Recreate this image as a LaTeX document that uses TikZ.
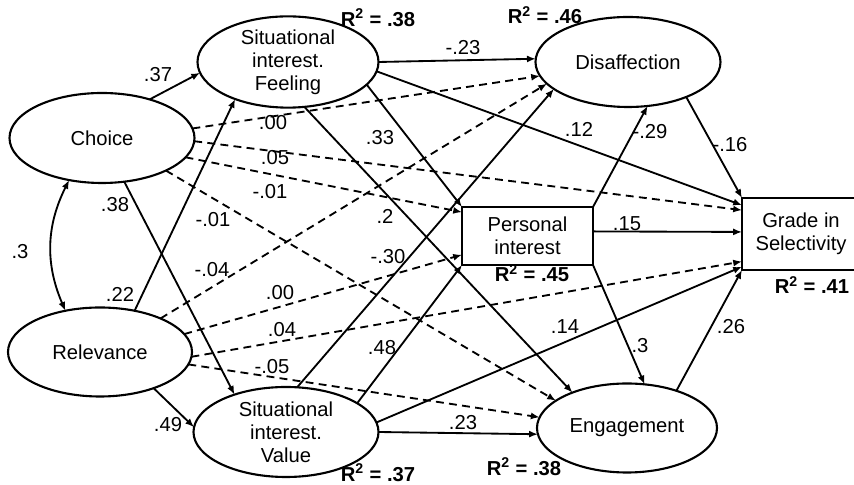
\documentclass[tikz,border=0pt]{standalone}
\usepackage{fontspec}
\setmainfont{Liberation Sans}
\usetikzlibrary{shapes.geometric, arrows.meta}

\begin{document}
\begin{tikzpicture}[
	latent/.style={draw, ellipse, line width=1.2pt, inner sep=0, outer sep=0, align=center, minimum width=3.7cm, minimum height=1.8cm},
	observed/.style={draw, rectangle, line width=1.2pt, inner sep=0, outer sep=0, align=center},
	effect/.style={-{Latex[length=5pt, width=4pt]}, line width=1.05pt},
	nseffect/.style={effect, dash pattern=on 4.5pt off 3pt},
	coef/.style={inner sep=0},
	rsq/.style={inner sep=0, font=\fontsize{11.5}{13}\selectfont\bfseries},
	every node/.style={font=\fontsize{11.5}{13}\selectfont}
	]
	\useasboundingbox (0,0) rectangle (17.08,9.7);
	
	% constructs
	\node (choice) at (2.04,6.94) [latent] {Choice};
	\node (relev) at (2.0,2.66) [latent, minimum width=3.68cm, minimum height=1.78cm] {Relevance};
	\node (feel) at (5.76,8.46) [latent, minimum width=3.62cm, minimum height=1.62cm] {Situational\\interest.\\Feeling};
	\node (value) at (5.72,1.06) [latent] {Situational\\interest.\\Value};
	\node (pers) at (10.55,4.98) [observed, minimum width=2.62cm, minimum height=1.16cm] {Personal\\interest};
	\node (disaf) at (12.56,8.46) [latent] {Disaffection};
	\node (engag) at (12.54,1.14) [latent, minimum width=3.6cm, minimum height=1.78cm] {Engagement};
	\node (grade) at (16.02,5.02) [observed, line width=1.5pt, minimum width=2.36cm, minimum height=1.44cm] {Grade in\\Selectivity};
	
	% explained variance
	\node (r-feel) at (7.56,9.34) [rsq] {R\textsuperscript{2} = .38};
	\node (r-disaf) at (10.9,9.4) [rsq] {R\textsuperscript{2} = .46};
	\node (r-pers) at (10.64,4.24) [rsq] {R\textsuperscript{2} = .45};
	\node (r-grade) at (16.24,4.0) [rsq] {R\textsuperscript{2} = .41};
	\node (r-value) at (7.56,0.25) [rsq] {R\textsuperscript{2} = .37};
	\node (r-engag) at (10.48,0.36) [rsq] {R\textsuperscript{2} = .38};
	
	% significant paths
	\draw [effect] (choice.39) -- (feel.187);
	\draw [effect] (choice.-63) -- (value.144);
	\draw [effect] (relev.50) -- (feel.215);
	\draw [effect] (relev.-34) -- (value.177);
	\draw [effect] (feel.0) -- (disaf.178);
	\draw [effect] (feel.-6) -- (grade.154);
	\draw [effect] (feel.-16) -- (pers.north west);
	\draw [effect] (feel.-70) -- (engag.147);
	\draw [effect] (value.76) -- (disaf.200);
	\draw [effect] (value.22) -- (pers.south west);
	\draw [effect] (value.6) -- (grade.209);
	\draw [effect] (value.0) -- (engag.184);
	\draw [effect] (pers.north east) -- (disaf.-66);
	\draw [effect] (pers.4) -- (grade.178);
	\draw [effect] (pers.south east) -- (engag.68);
	\draw [effect] (disaf.-31) -- (grade.north west);
	\draw [effect] (engag.37) -- (grade.south west);
	
	% non-significant paths
	\draw [nseffect] (choice.6) -- (disaf.189);
	\draw [nseffect] (choice.-2) -- (grade.158);
	\draw [nseffect] (choice.-13) -- (pers.160);
	\draw [nseffect] (choice.-27) -- (engag.159);
	\draw [nseffect] (relev.29) -- (disaf.195);
	\draw [nseffect] (relev.12) -- (pers.196);
	\draw [nseffect] (relev.-3) -- (grade.205);
	\draw [nseffect] (relev.-8) -- (engag.173);
	
	% correlation
	\draw [{Latex[length=5pt, width=4pt]}-{Latex[length=5pt, width=4pt]}, line width=1.05pt] (choice.232) to [bend right=25] (relev.130);
	
	% coefficients
	\node (b-cr) at (0.4,4.66) [coef] {.3};
	\node (b-cf) at (3.16,8.2) [coef] {.37};
	\node (b-cv) at (2.3,5.6) [coef] {.38};
	\node (b-rf) at (2.4,3.82) [coef] {.22};
	\node (b-rv) at (3.36,1.2) [coef] {.49};
	\node (b-fd) at (9.26,8.74) [coef] {-.23};
	\node (b-fg) at (11.58,7.12) [coef] {.12};
	\node (b-fp) at (7.6,6.94) [coef] {.33};
	\node (b-fe) at (7.7,5.38) [coef] {.2};
	\node (b-vd) at (7.76,4.56) [coef] {-.30};
	\node (b-vp) at (7.64,2.74) [coef] {.48};
	\node (b-ve) at (9.26,1.24) [coef] {.23};
	\node (b-vg) at (11.3,3.16) [coef] {.14};
	\node (b-cd) at (5.46,7.24) [coef] {.00};
	\node (b-cg) at (5.5,6.54) [coef] {.05};
	\node (b-cp) at (5.4,5.86) [coef] {-.01};
	\node (b-ce) at (4.26,5.3) [coef] {-.01};
	\node (b-rd) at (4.24,4.3) [coef] {-.04};
	\node (b-rp) at (5.6,3.84) [coef] {.00};
	\node (b-rg) at (5.64,3.1) [coef] {.04};
	\node (b-re) at (5.44,2.36) [coef] {-.05};
	\node (b-pd) at (13.0,7.06) [coef] {-.29};
	\node (b-pg) at (12.54,5.22) [coef] {.15};
	\node (b-pe) at (12.8,2.78) [coef] {.3};
	\node (b-dg) at (14.6,6.8) [coef] {-.16};
	\node (b-eg) at (14.62,3.16) [coef] {.26};
\end{tikzpicture}
\end{document}
